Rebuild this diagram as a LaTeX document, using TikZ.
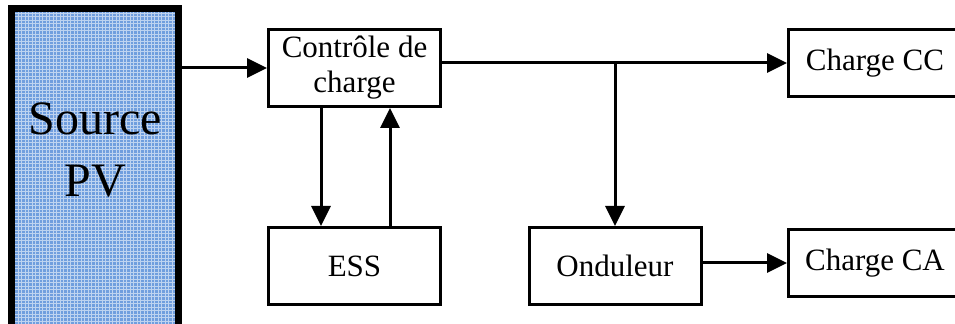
\documentclass[tikz,border=0pt]{standalone}
\usepackage{fontspec}
\setmainfont{Liberation Serif}
\usetikzlibrary{arrows.meta, positioning}

\definecolor{pvblue}{RGB}{112,158,222}

\begin{document}
\begin{tikzpicture}[x=0.5pt, y=-0.5pt, line width=1.5pt, >={Triangle[length=10pt,width=9.5pt]},
	block/.style={draw, rectangle, inner sep=0pt, align=center, minimum width=86pt, minimum height=38.5pt, font=\fontsize{15.5}{17.5}\selectfont},
	load/.style={block, minimum width=86.5pt, minimum height=33.5pt},
	pvbox/.style={draw, rectangle, line width=3.5pt, fill=pvblue, minimum width=83.5pt, minimum height=165.75pt,
		path picture={\draw[white, line width=0.45pt, opacity=0.55] (path picture bounding box.south west) grid[step=1.75pt] (path picture bounding box.north east);}}]
	\clip (0,0) rectangle (955,324);
	% blocks
	\node[pvbox]	(pv)	at (95,174.25)	{};
	\node[align=center, font=\fontsize{24}{31}\selectfont] (pvtext) at (95,150) {Source\\PV};
	\node[block]	(ctrl)	at (354.5,68)	{Contrôle de\\charge};
	\node[block]	(ess)	[below = 59pt of ctrl]{ESS};
	\node[block]	(ond)	at (615,266)	{Onduleur};
	\node[load]		(cc)	at (875,63)		{Charge CC};
	\node[load]		(ca)	[below = 65pt of cc]{Charge CA};
	\coordinate		(tap)	at (615,63);
	% connectors
	\draw[->] (pv.east |- ctrl.west) -- (ctrl.west);
	\draw[->] ([xshift=-16.75pt]ctrl.south) -- ([xshift=-16.75pt]ess.north);
	\draw[->] ([xshift=17.75pt]ess.north) -- ([xshift=17.75pt]ctrl.south);
	\draw[->] (ctrl.east |- tap) -- (cc.west |- tap);
	\draw[->] (tap) -- (ond.north);
	\draw[->] (ond.east |- ca.west) -- (ca.west);
\end{tikzpicture}
\end{document}
